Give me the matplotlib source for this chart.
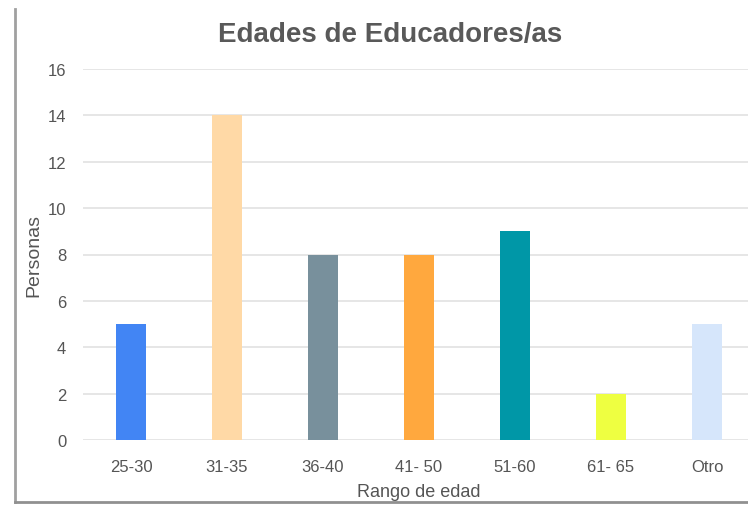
import matplotlib
matplotlib.use("Agg")
import matplotlib.pyplot as plt
from matplotlib.lines import Line2D

# Datos
rangos = ['25-30', '31-35', '36-40', '41- 50', '51-60', '61- 65', 'Otro']
personas = [5, 14, 8, 8, 9, 2, 5]
colores = ['#4285F4', '#FFD9A6', '#78909C', '#FFA83E', '#0097A7', '#EEFF41', '#D6E6FB']
yticks = [0, 2, 4, 6, 8, 10, 12, 14, 16]

plt.rcParams['font.family'] = ['Liberation Sans', 'DejaVu Sans']

fig = plt.figure(figsize=(7.48, 5.06), dpi=100)
# el panel queda cortado por la derecha, como en la captura
ax = fig.add_axes([83 / 748, 1 - 441 / 506, 672 / 748, 371 / 506])

x = list(range(len(rangos)))
ax.bar(x, personas, width=0.31, color=colores, zorder=3)

ax.set_xlim(-0.5, len(rangos) - 0.5)
ax.set_ylim(0, 16)
ax.set_yticks(yticks)
ax.set_xticks(x)
ax.set_xticklabels(rangos)
ax.yaxis.grid(True, color='#E2E2E2', linewidth=1.2, zorder=0)
for s in ax.spines.values():
    s.set_visible(False)
ax.tick_params(axis='both', length=0, labelsize=12, labelcolor='#555555')
ax.tick_params(axis='y', pad=12)
ax.tick_params(axis='x', pad=14)

ax.set_xlabel('Rango de edad', fontsize=13, color='#555555', labelpad=6)
ax.set_ylabel('Personas', fontsize=14, color='#555555', labelpad=4)

fig.text(390 / 748, 1 - 35 / 506, 'Edades de Educadores/as', fontsize=20,
         fontweight='bold', color='#595959', ha='center', va='center')

# marco de la captura (izquierda y abajo)
fig.add_artist(Line2D([15 / 748, 15 / 748], [1 - 10 / 506, 1 - 503 / 506],
                      transform=fig.transFigure, color='#A0A0A0', linewidth=2))
fig.add_artist(Line2D([15 / 748, 1], [1 - 503 / 506, 1 - 503 / 506],
                      transform=fig.transFigure, color='#909090', linewidth=2))

fig.savefig('out.png', dpi=100)
